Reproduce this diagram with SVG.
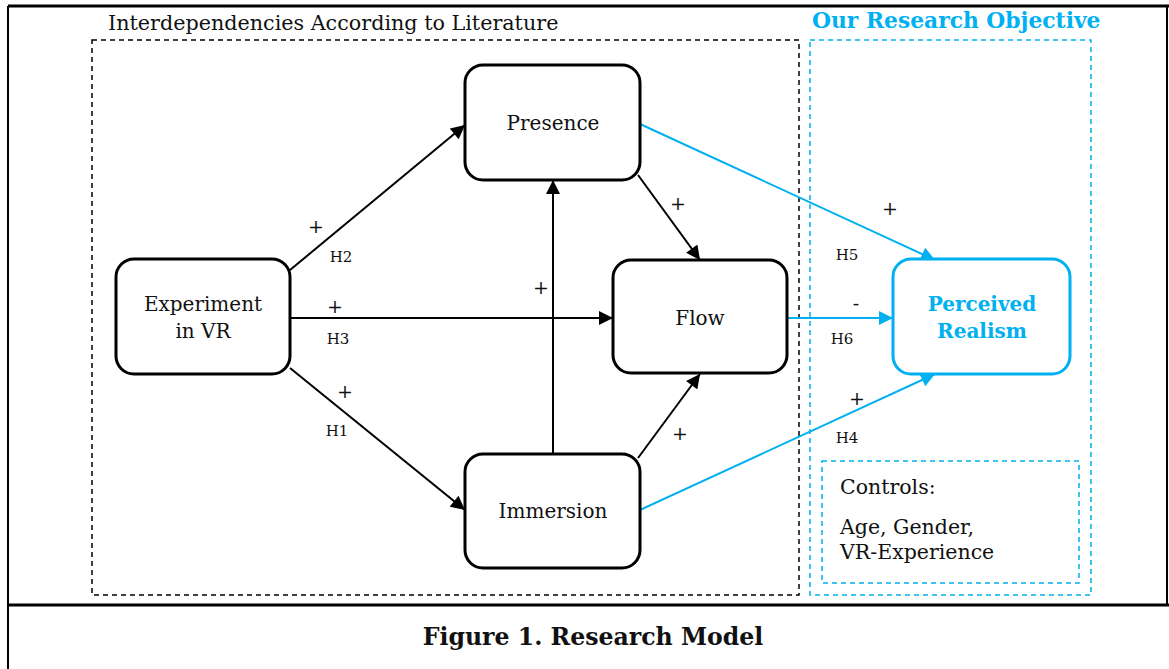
<svg xmlns="http://www.w3.org/2000/svg" width="1169" height="669" viewBox="0 0 1169 669">
<style>
text{font-family:"DejaVu Serif","Liberation Serif",serif;fill:#111}
.lbl{font-size:20px;text-anchor:middle}
.pl{font-size:19px;text-anchor:middle}
.h{font-size:15px;text-anchor:middle}
.node{fill:#fff;stroke:#000;stroke-width:3}
.blue{fill:#fff;stroke:#00b0f0;stroke-width:3}
.c{stroke:#000;stroke-width:2;fill:none}
.cb{stroke:#00b0f0;stroke-width:2;fill:none}
</style>
<defs>
<marker id="ak" viewBox="0 0 10 10" refX="10" refY="5" markerWidth="15" markerHeight="14" markerUnits="userSpaceOnUse" orient="auto"><path d="M0,0L10,5L0,10z" fill="#000"/></marker>
<marker id="ab" viewBox="0 0 10 10" refX="10" refY="5" markerWidth="15" markerHeight="14" markerUnits="userSpaceOnUse" orient="auto"><path d="M0,0L10,5L0,10z" fill="#00b0f0"/></marker>
</defs>
<rect width="1169" height="669" fill="#fff"/>
<g id="frame" fill="none" stroke="#000">
<line x1="8" y1="6" x2="1169" y2="6" stroke-width="3"/>
<line x1="8" y1="6" x2="8" y2="669" stroke-width="2"/>
<line x1="1167" y1="6" x2="1167" y2="605" stroke-width="2"/>
<line x1="8" y1="605" x2="1169" y2="605" stroke-width="3"/>
</g>
<g id="groups" fill="none">
<rect x="92" y="40" width="707" height="555" stroke="#000" stroke-width="1.5" stroke-dasharray="5,4"/>
<rect x="810" y="40" width="281" height="555" stroke="#00b0f0" stroke-width="1.5" stroke-dasharray="5,4"/>
<rect x="822" y="461" width="257" height="122" stroke="#00b0f0" stroke-width="1.5" stroke-dasharray="5,4"/>
</g>
<text x="108" y="30" font-size="20.7">Interdependencies According to Literature</text>
<text x="812" y="28" font-size="21.8" font-weight="bold" style="fill:#00b0f0">Our Research Objective</text>
<g id="connectors">
<line class="c" x1="290" y1="270" x2="465" y2="125" marker-end="url(#ak)"/>
<line class="c" x1="290" y1="318" x2="613" y2="318" marker-end="url(#ak)"/>
<line class="c" x1="290" y1="368" x2="465" y2="510" marker-end="url(#ak)"/>
<line class="c" x1="553" y1="454" x2="553" y2="180" marker-end="url(#ak)"/>
<line class="c" x1="638" y1="175" x2="700" y2="260" marker-end="url(#ak)"/>
<line class="c" x1="638" y1="458" x2="700" y2="374" marker-end="url(#ak)"/>
<line class="cb" x1="640" y1="124" x2="935" y2="260" marker-end="url(#ab)"/>
<line class="cb" x1="787" y1="318" x2="893" y2="318" marker-end="url(#ab)"/>
<line class="cb" x1="640" y1="510" x2="935" y2="374" marker-end="url(#ab)"/>
<text class="pl" x="316" y="233">+</text>
<text class="h" x="341" y="262">H2</text>
<text class="pl" x="335" y="313">+</text>
<text class="h" x="338" y="344">H3</text>
<text class="pl" x="345" y="398">+</text>
<text class="h" x="337" y="436">H1</text>
<text class="pl" x="541" y="294">+</text>
<text class="pl" x="678" y="210">+</text>
<text class="pl" x="680" y="440">+</text>
<text class="pl" x="890" y="215">+</text>
<text class="h" x="847" y="260">H5</text>
<text class="pl" x="856" y="310">-</text>
<text class="h" x="842" y="344">H6</text>
<text class="pl" x="857" y="405">+</text>
<text class="h" x="847" y="443">H4</text>
</g>
<g id="experiment"><rect class="node" x="116" y="259" width="174" height="115" rx="18"/><text class="lbl" x="203" y="311">Experiment</text><text class="lbl" x="203" y="338">in VR</text></g>
<g id="presence"><rect class="node" x="465" y="65" width="175" height="115" rx="18"/><text class="lbl" x="553" y="130">Presence</text></g>
<g id="flow"><rect class="node" x="613" y="260" width="174" height="113" rx="18"/><text class="lbl" x="700" y="325">Flow</text></g>
<g id="immersion"><rect class="node" x="465" y="454" width="175" height="114" rx="18"/><text class="lbl" x="553" y="518">Immersion</text></g>
<g id="realism"><rect class="blue" x="893" y="259" width="177" height="115" rx="18"/><text class="lbl" x="982" y="311" font-weight="bold" style="fill:#00b0f0">Perceived</text><text class="lbl" x="982" y="338" font-weight="bold" style="fill:#00b0f0">Realism</text></g>
<g id="controls"><text x="840" y="494" font-size="20.5">Controls:</text><text x="840" y="534" font-size="20.5">Age, Gender,</text><text x="840" y="559" font-size="20.5">VR-Experience</text></g>
<text x="593" y="645" font-size="23.6" font-weight="bold" text-anchor="middle">Figure 1. Research Model</text>
</svg>
